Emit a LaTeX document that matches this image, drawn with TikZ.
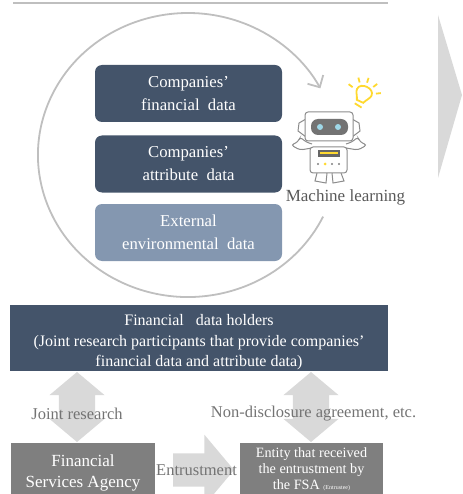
\documentclass[tikz,border=0pt]{standalone}
\usepackage{fontspec}
\setmainfont{Liberation Serif}
\usetikzlibrary{shapes,arrows.meta}
\definecolor{darkslate}{HTML}{44546A}
\definecolor{lightslate}{HTML}{8497B0}
\definecolor{boxgray}{HTML}{7F7F7F}
\definecolor{blockgray}{HTML}{D9D9D9}
\definecolor{ringgray}{HTML}{BFBFBF}
\definecolor{bulbyellow}{HTML}{FFD92F}
\definecolor{eyeblue}{HTML}{9FD8E8}
\begin{document}
\begin{tikzpicture}[x=1pt,y=1pt,
    databox/.style={rounded corners=7pt, minimum width=187pt, minimum height=57pt, inner sep=0pt,
      align=center, text=white, font=\fontsize{16.7}{23}\selectfont},
    holderbox/.style={minimum width=378pt, minimum height=66pt, inner sep=0pt, fill=darkslate,
      align=center, text=white, font=\fontsize{16}{20.5}\selectfont},
    agencybox/.style={minimum width=144pt, minimum height=60pt, inner sep=0pt, fill=boxgray,
      align=center, text=white},
    blockarrow/.style={fill=blockgray, inner xsep=0pt},
    graylabel/.style={text=black!55, inner sep=0pt, font=\fontsize{16.5}{18}\selectfont},
    robotline/.style={draw=black!45, line width=1pt, fill=white}
  ]

  \clip (0, 0) rectangle (462, -494);

  \newcommand\XDATA{188.5};
  \newcommand\YARROW{-407};

  \draw[ringgray, line width=1.5pt] (13, -3) -- (388, -3);
  \fill[blockgray] (438, -15) -- (462, -95) -- (438, -178) -- cycle;

  % data loop
  \coordinate (loopstart) at (323.1, -216.6);
  \draw[-{Straight Barb[length=9pt,width=18pt]}, ringgray, line width=1.8pt]
  (loopstart) arc[start angle=-25.7, delta angle=-306.3, x radius=150, y radius=142];

  \node[databox, fill=darkslate] (financial) at (\XDATA, -93.5) {Companies'\\financial\ \ data};
  \node[databox, fill=darkslate] (attribute) at (\XDATA, -164) {Companies'\\attribute\ \ data};
  \node[databox, fill=lightslate] (external) at (\XDATA, -232.5) {External\\environmental\ \ data};

  % robot
  \draw[robotline] (306, -119) -- (299, -123) -- (298, -131) -- (306, -137);
  \draw[robotline] (352, -119) -- (359, -123) -- (360, -131) -- (352, -137);
  \draw[robotline, rounded corners=3pt] (312, -148) -- (300, -150) -- (291, -145) -- (298, -142) -- (300, -137) -- (306, -142) -- (312, -144);
  \draw[robotline, rounded corners=3pt] (346, -148) -- (358, -150) -- (367, -145) -- (360, -142) -- (358, -137) -- (352, -142) -- (346, -144);
  \draw[robotline] (317, -173) -- (315, -181) -- (326, -183) -- (327, -173);
  \draw[robotline] (341, -173) -- (344, -181) -- (333, -183) -- (332, -173);
  \draw[robotline, rounded corners=3pt] (310, -147) rectangle (347, -173);
  \draw[robotline, rounded corners=3pt] (305, -112) rectangle (353, -141);
  \fill[black!55, rounded corners=7pt] (311, -119) rectangle (348, -135);
  \fill[eyeblue] (320, -127) circle (3);
  \fill[eyeblue] (338, -127) circle (3);
  \fill[black!60] (318, -150) rectangle (340, -157);
  \fill[bulbyellow] (320, -152) rectangle (338, -154);
  \fill[black!50] (318, -164) circle (1.2);
  \fill[bulbyellow] (325, -164) circle (1.5);
  \fill[black!50] (332, -164) circle (1.2);
  \fill[black!50] (339, -164) circle (1.2);

  % bulb
  \begin{scope}[shift={(363, -95)}, rotate=-25, bulbyellow, line width=1.8pt]
    \draw (-3.5, -7) .. controls (-5, -3) and (-8, 0) .. (-8, 3)
    .. controls (-8, 11) and (8, 11) .. (8, 3)
    .. controls (8, 0) and (5, -3) .. (3.5, -7) -- cycle;
    \draw (-4, -11) -- (4, -12);
    \foreach \ang in {168, 130, 97, 63, 31}
      \draw (\ang:13) -- (\ang:18);
  \end{scope}

  \node[text=black!65, inner sep=0pt, font=\fontsize{17}{18}\selectfont] (learning) at (345.5, -197.5) {Machine learning};

  \node[holderbox] (holders) at (199, -338) {\rule{0pt}{20pt}Financial\ \ \ data holders\\(Joint research participants that provide companies'\\financial data and attribute data)};

  \node[agencybox, font=\fontsize{17}{21.5}\selectfont] (agency) at (83, -473) {Financial\\Services Agency};
  \node[agencybox, minimum width=143pt, minimum height=53pt, font=\fontsize{14.2}{16}\selectfont] (entity) at (311.5, -469.5)
  {Entity that received\\the entrustment by\\the FSA {\fontsize{6}{6}\selectfont (Entrustee)}};

  \node[blockarrow, double arrow, rotate=90, minimum height=70pt, inner ysep=18pt, double arrow tip angle=100,
    double arrow head extend=9.5pt] (jointarrow) at (77, \YARROW) {};
  \node[blockarrow, double arrow, rotate=90, minimum height=70pt, inner ysep=18pt, double arrow tip angle=100,
    double arrow head extend=9.5pt] (ndaarrow) at (311, \YARROW) {};
  \node[blockarrow, single arrow, minimum height=61pt, inner ysep=16.5pt, single arrow tip angle=100,
    single arrow head extend=18.5pt] (entrustarrow) at (196.5, -470) {};

  \node[graylabel] (joint) at (77, -413.5) {Joint research};
  \node[graylabel] (nda) at (313.5, -413.5) {Non-disclosure agreement, etc.};
  \node[graylabel] (entrust) at (196.5, -470) {Entrustment};

\end{tikzpicture}
\end{document}
